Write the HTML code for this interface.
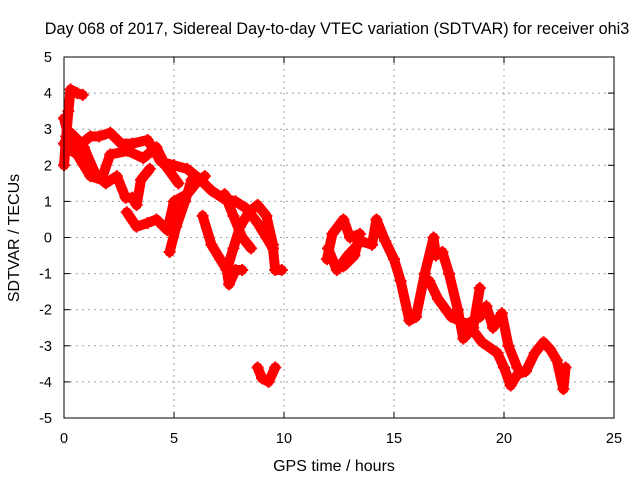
<!DOCTYPE html>
<html><head><meta charset="utf-8"><style>
body{margin:0;background:#fff}
svg{display:block;font-family:"Liberation Sans",sans-serif}
</style></head><body>
<svg id="chart" width="640" height="480">
<text x="337" y="34" font-size="16.2" text-anchor="middle">Day 068 of 2017, Sidereal Day-to-day VTEC variation (SDTVAR) for receiver ohi3</text>
<text x="334" y="471" font-size="16" text-anchor="middle">GPS time / hours</text>
<text transform="translate(19,238) rotate(-90)" font-size="16" text-anchor="middle">SDTVAR / TECUs</text>
<g id="grid"></g><g id="ticks"></g><g id="marks"></g>
<rect x="64" y="57" width="550" height="361" fill="none" stroke="#000" stroke-width="1"/>
</svg>
<script>
const xTicks=[0,5,10,15,20,25];
const yTicks=[-5,-4,-3,-2,-1,0,1,2,3,4,5];
const track1=[[0,2.0],[0.1,2.8],[0.2,3.5],[0.3,4.1],[0.6,4.0],[0.85,3.95]];
const track2=[[0,2.6],[0.3,2.9],[0.8,2.6],[1.2,2.8],[1.6,2.8],[2.1,2.9],[2.6,2.6],[3.1,2.6],[3.8,2.7],[4.4,2.1],[5.0,2.0],[5.6,1.9],[6.2,1.6],[6.7,1.3],[7.2,1.1],[7.8,1.0],[8.3,0.8],[8.8,0.4],[9.2,0.0],[9.5,-0.3],[9.6,-0.9],[9.9,-0.9]];
const track3=[[0.1,2.5],[0.6,2.3],[1.2,1.7],[1.7,1.6],[2.1,2.3],[2.9,2.4],[3.6,2.2],[4.2,2.5],[4.6,2.0],[5.2,1.5]];
const track4=[[0.0,3.3],[0.3,2.6],[0.9,2.5],[1.4,1.8],[1.9,1.5],[2.4,1.7],[2.8,1.1],[3.1,1.1],[3.3,0.9],[3.5,1.6],[3.9,1.9]];
const track5=[[2.85,0.7],[3.3,0.3],[3.8,0.4],[4.2,0.5],[4.7,0.2],[5.0,1.0],[5.6,1.2],[6.0,1.5],[6.4,1.7]];
const track6=[[4.8,-0.4],[5.1,0.3],[5.5,1.0],[5.8,1.6]];
const track7=[[6.3,0.6],[6.7,-0.2],[7.1,-0.6],[7.4,-0.9],[7.5,-1.3],[7.8,-0.9],[8.1,-0.9]];
const track8=[[7.4,-0.9],[7.7,-0.3],[8.0,0.3],[8.4,0.7],[8.8,0.9],[9.2,0.6],[9.5,-0.2]];
const track9=[[7.3,1.2],[7.7,0.6],[8.1,0.0],[8.5,-0.3]];
const track10=[[8.8,-3.6],[9.0,-3.9],[9.3,-4.0],[9.6,-3.6]];
const track11=[[11.95,-0.6],[12.2,0.1],[12.7,0.5],[13.0,0.0],[13.45,0.1],[13.2,-0.5],[12.7,-0.8]];
const track12=[[12.0,-0.3],[12.4,-0.9],[12.9,-0.5],[13.5,-0.1],[14.0,-0.2],[14.2,0.5],[14.6,-0.1],[15.0,-0.6],[15.3,-1.2],[15.7,-2.3],[16.0,-2.2],[16.4,-1.0],[16.8,0.0],[16.9,-0.5],[17.2,-0.4],[17.5,-1.0],[17.9,-2.0],[18.15,-2.8],[18.6,-2.5],[18.9,-1.4]];
const track13=[[16.6,-1.2],[17.0,-1.7],[17.6,-2.2],[18.3,-2.4],[18.9,-2.2],[19.2,-1.9],[19.5,-2.5],[19.9,-2.1],[20.2,-3.0],[20.6,-3.6]];
const track14=[[18.5,-2.5],[19.0,-2.9],[19.7,-3.2],[20.0,-3.6],[20.3,-4.1],[20.6,-3.8],[21.0,-3.7],[21.4,-3.2],[21.8,-2.9],[22.1,-3.1],[22.4,-3.4],[22.7,-4.2],[22.8,-3.6]];
const series=[track1,track2,track3,track4,track5,track6,track7,track8,track9,track10,track11,track12,track13,track14];
const X0=64,X1=614,Y0=418,Y1=57;
const xs=t=>X0+(t-0)/25*(X1-X0);
const ys=v=>Y0-(v+5)/10*(Y0-Y1);
const NS="http://www.w3.org/2000/svg";
const grid=document.getElementById('grid'),ticks=document.getElementById('ticks'),marks=document.getElementById('marks');
function mk(tag,attrs,parent){const e=document.createElementNS(NS,tag);for(const k in attrs)e.setAttribute(k,attrs[k]);parent.appendChild(e);return e;}
xTicks.forEach(t=>{
  const x=xs(t);
  if(t>0&&t<25){const g=mk('line',{x1:x,x2:x,y1:Y1,y2:Y0,stroke:'#a0a0a0','stroke-dasharray':'2,4'},grid);
  
  }
  mk('line',{x1:x,x2:x,y1:Y0,y2:Y0-6,stroke:'#000'},ticks);
  mk('line',{x1:x,x2:x,y1:Y1,y2:Y1+6,stroke:'#000'},ticks);
  const l=mk('text',{x:x,y:Y0+25,'font-size':14.5,'text-anchor':'middle'},ticks);l.textContent=t;
  
  
});
yTicks.forEach(v=>{
  const y=ys(v);
  if(v>-5&&v<5){const g=mk('line',{x1:X0,x2:X1,y1:y,y2:y,stroke:'#a0a0a0','stroke-dasharray':'2,4'},grid);
  
  }
  mk('line',{x1:X0,x2:X0+6,y1:y,y2:y,stroke:'#000'},ticks);
  mk('line',{x1:X1,x2:X1-6,y1:y,y2:y,stroke:'#000'},ticks);
  const l=mk('text',{x:X0-12,y:y+5,'font-size':14.5,'text-anchor':'end'},ticks);l.textContent=v;
  
  
});
series.forEach((s,i)=>{
  const pts=s.map(p=>xs(p[0])+','+ys(p[1])).join(' ');
  const pl=mk('polyline',{points:pts,fill:'none',stroke:'#ff0000','stroke-width':10,'stroke-linejoin':'round','stroke-linecap':'round'},marks);
  
  
  s.forEach(p=>{
    const x=xs(p[0]),y=ys(p[1]);
    const m=mk('path',{d:`M${x-6},${y}H${x+6}M${x},${y-6}V${y+6}`,stroke:'#ff0000','stroke-width':2},marks);
    
    
  });
});
</script>
</body></html>
